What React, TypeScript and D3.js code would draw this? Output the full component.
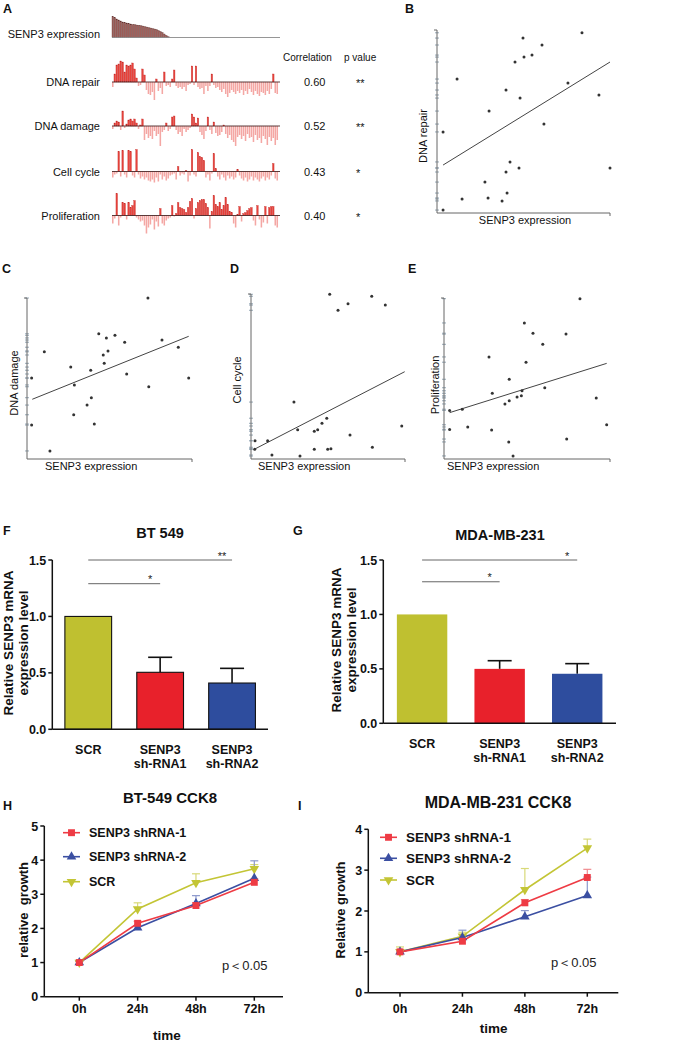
import React from 'react';
import * as d3 from 'd3';

const FONT = '"Liberation Sans", Arial, Helvetica, sans-serif';

// ---------- Panel A data ----------
const heatRowNames = ['DNA repair', 'DNA damage', 'Cell cycle', 'Proliferation'];
const correlations = ['0.60', '0.52', '0.43', '0.40'];
const pValues = ['**', '**', '*', '*'];
const senp3Expression = [21, 20, 18.5, 17.5, 16.5, 15.5, 15, 14.5, 14, 13.5, 13, 13, 12.5, 12.3, 12, 11.5, 11, 10.5, 10, 9.5, 9, 8.5, 8, 7, 6, 5, 3.5, 2, 0.7,
  0, 0, 0, 0, 0, 0, 0, 0, 0, 0, 0, 0, 0, 0, 0, 0, 0, 0, 0, 0, 0, 0, 0, 0, 0, 0, 0, 0, 0, 0, 0, 0, 0, 0, 0, 0, 0, 0, 0, 0, 0, 0, 0, 0, 0, 0, 0, 0, 0, 0, 0, 0, 0, 0, 0, 0];
const dnaRepair = [-5, 8, 17, 18, 21, 20, 10, 17, 16, 17, 19, 13, 4, -4, -3, 13, 7, -8, -12, -13, -10, -18, 3, -9, -6, -12, 10, -4, -3, -5,
  3, 12, -4, -6, -5, -7, -5, -9, -3, -2, 16, -3, 16, -5, -7, -6, -12, -4, -9, -4, 8, -3, -6, -5, -8, -10, -7, -12, -15, -11,
  -8, -10, -12, -9, -11, -8, -13, -9, -12, -7, -10, -13, -9, -12, -14, -10, -11, -13, -9, -12, -7, 8, -11, -12];
const dnaDamage = [-3, 3, 5, 4, -4, 15, -2, 2, 6, 7, 5, 7, 3, -3, 1, 7, -14, -8, -12, -10, -13, -5, -10, -8, -20, -6, -4, 3, -5, -3,
  9, 10, -4, -8, -6, -10, -3, -6, -4, -2, 12, 9, 3, 8, -6, -9, -13, -5, 9, -4, -8, 4, -7, -10, -9, -6, 1, -8, -12, -9,
  -14, -16, -20, -11, -9, -13, -10, -15, -8, -12, -11, -16, -9, -14, -12, -17, -10, -13, -19, -11, -15, -12, -19, -14];
const cellCycle = [-6, -3, -2, 20, -5, 21, -3, -6, 21, 20, -4, -6, 22, -3, -7, -5, -8, -6, -9, -10, -8, -11, -6, -10, -3, -8, -5, -9, -7, -4,
  -3, -2, -8, 5, -4, -2, -3, 1, -10, -4, 22, -3, -5, 19, 15, 14, 11, -6, -3, -9, -2, 18, 3, -5, -8, -3, -6, -9, -4, -7,
  -5, -8, -6, 2, -4, -7, -9, -6, -10, -8, -5, -9, -6, -8, -10, -7, -5, -9, -6, -8, -4, 8, -7, -9];
const proliferation = [-8, -3, 22, -10, -2, 13, 12, -4, 13, 8, 10, 15, -2, -4, -6, -5, -10, -18, -12, -9, -4, -14, -6, -11, 7, -8, -10, -5, -3, -2,
  10, -1, 2, 13, 8, 7, 6, 3, 8, 14, 17, -3, 7, 13, 15, 16, 16, 12, 8, -13, 4, 20, 11, 9, 13, 6, 10, 18, 11, 4,
  3, -8, -12, 1, 9, -6, 2, 3, 5, 7, 8, -5, -10, 10, -4, -12, -7, 9, -8, 8, 9, 9, -10, -12];

// ---------- Scatter data (x: SENP3 expression, y: pathway score, 0-100 units) ----------
const repairPts: [number, number][] = [[49.7, 95.6], [83.8, 98.5], [60.7, 91.8], [45.1, 82.5], [50.3, 85.2], [54.9, 86.3], [11.6, 73.2], [39.9, 67.2],
  [75.7, 71.0], [48.0, 62.8], [93.6, 64.5], [30.1, 55.7], [3.5, 44.3], [61.8, 48.6], [42.2, 27.9], [39.9, 22.4], [47.4, 24.6], [100, 24.6],
  [27.7, 16.9], [14.5, 7.7], [29.5, 8.2], [40.5, 10.9], [37.6, 6.6], [3.5, 1.6]];
const repairFit: [number, number][] = [[3.5, 26.2], [100, 82.5]];
const damagePts: [number, number][] = [[73.3, 100], [43.5, 77.8], [48.1, 75.2], [53.3, 76.8], [59.2, 72.5], [81.8, 73.9], [91.7, 69.4], [10.5, 66.6],
  [49.1, 67.1], [46.2, 64.6], [46.8, 59.4], [26.5, 57.1], [38.6, 55.1], [2.8, 50.3], [60.4, 52.8], [98.0, 50.3], [28.7, 46.0], [73.8, 44.9],
  [39.0, 38.1], [36.4, 33.5], [28.3, 27.5], [2.8, 21.1], [40.8, 21.7], [13.9, 5.0]];
const damageFit: [number, number][] = [[3.2, 37.1], [98, 76.2]];
const cyclePts: [number, number][] = [[51.1, 99.8], [78.4, 98.6], [63.0, 94.1], [87.2, 93.3], [56.5, 90.1], [27.9, 34.5], [49.2, 24.7], [46.1, 21.6],
  [30.3, 17.8], [43.3, 17.8], [41.1, 16.8], [97.9, 20.0], [64.3, 14.5], [10.8, 11.1], [2.6, 11.1], [2.4, 5.9], [41.1, 5.9], [49.8, 5.9],
  [51.9, 6.2], [78.8, 7.1], [13.6, 2.4], [31.8, 1.8]];
const cycleFit: [number, number][] = [[2.6, 6.1], [99.8, 52.9]];
const prolifPts: [number, number][] = [[81.9, 99.6], [48.4, 84.5], [53.6, 78.1], [73.5, 77.6], [59.5, 71.2], [27.1, 63.4], [49.4, 60.1], [39.3, 49.5],
  [29.1, 40.8], [47.0, 42.4], [60.7, 44.3], [44.0, 38.5], [46.6, 39.3], [39.3, 36.2], [36.7, 34.2], [91.7, 37.9], [11.0, 30.9], [14.3, 19.9],
  [28.7, 18.0], [39.0, 10.6], [73.9, 12.4], [98.0, 21.3], [3.4, 30.2], [3.4, 18.4], [41.6, 1.9]];
const prolifFit: [number, number][] = [[3.4, 28.8], [98, 59.4]];

// ---------- Bar chart data ----------
const barCats = ['SCR', 'sh1', 'sh2'];
const barLabels = [['SCR'], ['SENP3', 'sh-RNA1'], ['SENP3', 'sh-RNA2']];
const barTicks = [0, 0.5, 1.0, 1.5];
const bt549Mean = [1.0, 0.505, 0.41];
const bt549Err = [0, 0.133, 0.13];
const mdaMean = [1.0, 0.5, 0.455];
const mdaErr = [0, 0.075, 0.093];
const bt549Sig = [{ a: 0, b: 2, y: 1.5, label: '**' }, { a: 0, b: 1, y: 1.29, label: '*' }];
const mdaSig = [{ a: 0, b: 2, y: 1.5, label: '*' }, { a: 0, b: 1, y: 1.3, label: '*' }];

// ---------- CCK8 data ----------
const timePoints = ['0h', '24h', '48h', '72h'];
const legendNames = ['SENP3 shRNA-1', 'SENP3 shRNA-2', 'SCR'];
const bt549Sh1 = [1.0, 2.15, 2.67, 3.35];
const bt549Sh1Err = [0.04, 0.06, 0.08, 0.1];
const bt549Sh2 = [1.0, 2.02, 2.73, 3.47];
const bt549Sh2Err = [0.03, 0.05, 0.23, 0.51];
const bt549Scr = [1.0, 2.57, 3.34, 3.75];
const bt549ScrErr = [0.05, 0.18, 0.26, 0.12];
const mdaSh1 = [1.0, 1.26, 2.2, 2.82];
const mdaSh1Err = [0.03, 0.05, 0.08, 0.2];
const mdaSh2 = [1.0, 1.35, 1.86, 2.38];
const mdaSh2Err = [0.03, 0.18, 0.15, 0.45];
const mdaScr = [1.0, 1.38, 2.52, 3.54];
const mdaScrErr = [0.12, 0.1, 0.52, 0.22];

const RED = '#ee3b44';
const BLUE = '#3b4fa2';
const YEL = '#c3c535';

function Letter({ x, y, t }: { x: number; y: number; t: string }) {
  return <text x={x} y={y} fontSize={12.5} fontWeight="bold" fill="#111">{t}</text>;
}

function PanelA() {
  const xb = d3.scaleBand<number>().domain(d3.range(senp3Expression.length)).range([112, 280]).paddingInner(0.22);
  const h = d3.scaleLinear().domain([0, 25]).range([0, 25]);
  const rows = [dnaRepair, dnaDamage, cellCycle, proliferation];
  const bases = [82, 126, 171.5, 215.5];
  const expBase = 37.5;
  return (
    <g>
      <Letter x={3} y={13} t="A" />
      <text x={100} y={38} fontSize={11} textAnchor="end" fill="#111">SENP3 expression</text>
      {senp3Expression.map((v, i) => v > 0 ? (
        <rect key={i} x={xb(i)!} y={expBase - h(v)} width={xb.bandwidth()} height={h(v)} fill="#a0605b" stroke="#5e2f2c" strokeWidth={0.35} />
      ) : null)}
      <line x1={112} x2={280} y1={expBase} y2={expBase} stroke="#8a8a8a" strokeWidth={0.9} />
      <text x={283} y={61} fontSize={10} fill="#111">Correlation</text>
      <text x={344} y={61} fontSize={10} fill="#111">p value</text>
      {rows.map((vals, r) => (
        <g key={r}>
          <text x={100} y={bases[r] + 4} fontSize={11} textAnchor="end" fill="#111">{heatRowNames[r]}</text>
          {vals.map((v, i) => (
            <rect key={i} x={xb(i)!} y={v >= 0 ? bases[r] - h(v) : bases[r]} width={xb.bandwidth()} height={h(Math.abs(v))}
              fill={v >= 0 ? '#e8433c' : '#f4a7a4'} stroke={v >= 0 ? '#c52b29' : 'none'} strokeWidth={0.35} />
          ))}
          <line x1={112} x2={280} y1={bases[r]} y2={bases[r]} stroke="#4a2626" strokeWidth={0.9} />
          <text x={304} y={bases[r] + 4} fontSize={11} fill="#111">{correlations[r]}</text>
          <text x={356} y={bases[r] + 5} fontSize={11} fill="#111">{pValues[r]}</text>
        </g>
      ))}
    </g>
  );
}

function Scatter({ x0, x1, yTop, yBot, pts, fit, ylab, ylabX, ylabY, xlabX, xlabY, xlabAnchor }: any) {
  const xs = d3.scaleLinear().domain([0, 100]).range([x0, x1]);
  const ys = d3.scaleLinear().domain([0, 100]).range([yBot, yTop]);
  const line = d3.line<[number, number]>().x(d => xs(d[0])).y(d => ys(d[1]));
  return (
    <g>
      {pts.map((p: [number, number], i: number) => (
        <line key={'r' + i} x1={x0 - 2} x2={x0 + 2} y1={ys(p[1])} y2={ys(p[1])} stroke="#a9b8c4" strokeWidth={1.2} />
      ))}
      <line x1={x0} x2={x0} y1={yTop} y2={yBot} stroke="#666" strokeWidth={1} />
      <line x1={x0} x2={x1} y1={yBot} y2={yBot} stroke="#666" strokeWidth={1} />
      <line x1={x0 - 3} x2={x0} y1={yTop} y2={yTop} stroke="#666" strokeWidth={1} />
      <line x1={x1} x2={x1} y1={yBot} y2={yBot + 3} stroke="#666" strokeWidth={1} />
      <path d={line(fit) || ''} stroke="#444" strokeWidth={1} fill="none" />
      {pts.map((p: [number, number], i: number) => (
        <circle key={i} cx={xs(p[0])} cy={ys(p[1])} r={1.5} fill="#333" />
      ))}
      <text transform={`translate(${ylabX},${ylabY}) rotate(-90)`} fontSize={11} textAnchor="middle" fill="#111">{ylab}</text>
      <text x={xlabX} y={xlabY} fontSize={11} textAnchor={xlabAnchor} fill="#111">SENP3 expression</text>
    </g>
  );
}

function BarChart({ x0, x1, yTop, yBot, means, errs, sig, outline, title, titleX, titleY, labY, ylabX1, ylabX2, ylabY }: any) {
  const xb = d3.scaleBand<string>().domain(barCats).range([x0, x1]).paddingInner(0.35).paddingOuter(0.175);
  const ys = d3.scaleLinear().domain([0, 1.5]).range([yBot, yTop]);
  const colors = ['#bfc030', '#e8212b', '#2e4d9e'];
  return (
    <g>
      <text x={titleX} y={titleY} fontSize={14.5} fontWeight="bold" textAnchor="middle" fill="#111">{title}</text>
      {means.map((m: number, i: number) => {
        const c = barCats[i];
        const bx = xb(c)!;
        const cx = bx + xb.bandwidth() / 2;
        return (
          <g key={i}>
            {errs[i] > 0 && (
              <g stroke="#111" strokeWidth={1.6}>
                <line x1={cx} x2={cx} y1={ys(m)} y2={ys(m + errs[i])} />
                <line x1={cx - 12} x2={cx + 12} y1={ys(m + errs[i])} y2={ys(m + errs[i])} />
              </g>
            )}
            <rect x={bx} y={ys(m)} width={xb.bandwidth()} height={yBot - ys(m)} fill={colors[i]}
              stroke={outline ? '#111' : 'none'} strokeWidth={outline ? 1.1 : 0} />
            {barLabels[i].map((t, k) => (
              <text key={k} x={cx} y={labY + k * 14} fontSize={12.5} fontWeight="bold" textAnchor="middle" fill="#111">{t}</text>
            ))}
          </g>
        );
      })}
      {sig.map((s: any, i: number) => {
        const xa = xb(barCats[s.a])! + xb.bandwidth() / 2;
        const xe = xb(barCats[s.b])! + xb.bandwidth() / 2;
        return (
          <g key={i}>
            <line x1={xa} x2={xe} y1={ys(s.y)} y2={ys(s.y)} stroke="#666" strokeWidth={1} />
            <text x={xe - 10} y={ys(s.y) - 0.5} fontSize={11} textAnchor="middle" fill="#222">{s.label}</text>
          </g>
        );
      })}
      <line x1={x0} x2={x0} y1={yTop} y2={yBot} stroke="#111" strokeWidth={1.5} />
      <line x1={x0} x2={x1} y1={yBot} y2={yBot} stroke="#111" strokeWidth={1.5} />
      {barTicks.map((t, i) => (
        <g key={i}>
          <line x1={x0 - 4} x2={x0} y1={ys(t)} y2={ys(t)} stroke="#111" strokeWidth={1.5} />
          <text x={x0 - 6} y={ys(t) + 4.5} fontSize={12.5} fontWeight="bold" textAnchor="end" fill="#111">{t.toFixed(1)}</text>
        </g>
      ))}
      <text transform={`translate(${ylabX1},${ylabY}) rotate(-90)`} fontSize={13.5} fontWeight="bold" textAnchor="middle" fill="#111">Relative SENP3 mRNA</text>
      <text transform={`translate(${ylabX2},${ylabY}) rotate(-90)`} fontSize={13.5} fontWeight="bold" textAnchor="middle" fill="#111">expression level</text>
    </g>
  );
}

function Sym({ kind, x, y, color }: { kind: number; x: number; y: number; color: string }) {
  const types = [d3.symbolSquare, d3.symbolTriangle, d3.symbolTriangle];
  const sizes = [48, 40, 40];
  const d = d3.symbol().type(types[kind]).size(sizes[kind])() || '';
  return <path d={d} transform={`translate(${x},${y})${kind === 2 ? ' rotate(180)' : ''}`} fill={color} />;
}

function LineChart({ c }: any) {
  const xp = d3.scalePoint<string>().domain(timePoints).range([c.p0, c.p1]);
  const ys = d3.scaleLinear().domain([0, c.ymax]).range([c.yBot, c.yTop]);
  const ticks = d3.range(0, c.ymax + 1);
  const colors = [RED, BLUE, YEL];
  const errColors = ['#f08a8f', '#8c98cc', '#d8d978'];
  const line = d3.line<number>().x((_, i) => xp(timePoints[i])!).y(v => ys(v));
  const order = [2, 1, 0];
  return (
    <g>
      <text x={c.titleX} y={c.titleY} fontSize={c.titleSize} fontWeight="bold" textAnchor="middle" fill="#111">{c.title}</text>
      {order.map(k => (
        <g key={'e' + k} stroke={errColors[k]} strokeWidth={1.2}>
          {c.series[k].map((v: number, i: number) => {
            const x = xp(timePoints[i])!;
            const top = ys(v + c.errs[k][i]);
            return (
              <g key={i}>
                <line x1={x} x2={x} y1={ys(v)} y2={top} />
                <line x1={x - 4} x2={x + 4} y1={top} y2={top} />
              </g>
            );
          })}
        </g>
      ))}
      {order.map(k => (
        <path key={'l' + k} d={line(c.series[k]) || ''} stroke={colors[k]} strokeWidth={1.6} fill="none" />
      ))}
      {order.map(k => c.series[k].map((v: number, i: number) => (
        <Sym key={k + '-' + i} kind={k} x={xp(timePoints[i])!} y={ys(v)} color={colors[k]} />
      )))}
      <line x1={c.axX0} x2={c.axX0} y1={c.yTop} y2={c.yBot} stroke="#111" strokeWidth={1.5} />
      <line x1={c.axX0} x2={c.axX1} y1={c.yBot} y2={c.yBot} stroke="#111" strokeWidth={1.5} />
      {ticks.map(t => (
        <g key={t}>
          <line x1={c.axX0 - 4} x2={c.axX0} y1={ys(t)} y2={ys(t)} stroke="#111" strokeWidth={1.5} />
          <text x={c.axX0 - 6} y={ys(t) + 4.5} fontSize={12.5} fontWeight="bold" textAnchor="end" fill="#111">{t}</text>
        </g>
      ))}
      {timePoints.map(t => (
        <g key={t}>
          <line x1={xp(t)!} x2={xp(t)!} y1={c.yBot} y2={c.yBot + 4} stroke="#111" strokeWidth={1.5} />
          <text x={xp(t)!} y={c.tickLabY} fontSize={12.5} fontWeight="bold" textAnchor="middle" fill="#111">{t}</text>
        </g>
      ))}
      <text x={(c.p0 + c.p1) / 2} y={c.timeY} fontSize={13.5} fontWeight="bold" textAnchor="middle" fill="#111">time</text>
      <text transform={`translate(${c.ylabX},${c.ylabY}) rotate(-90)`} fontSize={13} fontWeight="bold" textAnchor="middle" fill="#111" style={{ whiteSpace: 'pre' }}>{c.ylab}</text>
      {legendNames.map((n, k) => (
        <g key={n}>
          <line x1={c.legX} x2={c.legX + 17} y1={c.legY[k]} y2={c.legY[k]} stroke={colors[k]} strokeWidth={1.6} />
          <Sym kind={k} x={c.legX + 8.5} y={c.legY[k]} color={colors[k]} />
          <text x={c.legX + 26} y={c.legY[k] + 4.5} fontSize={c.legSize} fontWeight="bold" fill="#111">{n}</text>
        </g>
      ))}
      <text x={c.pX} y={c.pY} fontSize={13} fill="#222">p＜0.05</text>
    </g>
  );
}

export default function App() {
  const hCfg = {
    axX0: 44.3, axX1: 283, p0: 79.3, p1: 254.3, yTop: 826, yBot: 996.7, ymax: 5,
    title: 'BT-549 CCK8', titleX: 170, titleY: 803, titleSize: 15,
    ylab: 'relative  growth', ylabX: 28, ylabY: 910,
    legX: 63, legY: [832.7, 856.7, 881.7], legSize: 12.5, pX: 222, pY: 969.5, timeY: 1040, tickLabY: 1013,
    series: [bt549Sh1, bt549Sh2, bt549Scr], errs: [bt549Sh1Err, bt549Sh2Err, bt549ScrErr],
  };
  const iCfg = {
    axX0: 368.3, axX1: 618.3, p0: 400, p1: 587.3, yTop: 829.3, yBot: 992.7, ymax: 4,
    title: 'MDA-MB-231 CCK8', titleX: 498, titleY: 808, titleSize: 16,
    ylab: 'Relative growth', ylabX: 345, ylabY: 910,
    legX: 380, legY: [837.3, 858.3, 880], legSize: 13.5, pX: 551, pY: 967, timeY: 1033, tickLabY: 1013,
    series: [mdaSh1, mdaSh2, mdaScr], errs: [mdaSh1Err, mdaSh2Err, mdaScrErr],
  };
  return (
    <svg width={698} height={1042} style={{ position: 'absolute', left: 0, top: 0, background: '#fff' }} fontFamily={FONT}>
      <rect x={0} y={0} width={698} height={1042} fill="#fff" />
      <PanelA />
      <Letter x={405} y={13} t="B" />
      <Scatter x0={437} x1={610} yTop={30} yBot={213} pts={repairPts} fit={repairFit} ylab="DNA repair" ylabX={427} ylabY={136} xlabX={525} xlabY={224} xlabAnchor="middle" />
      <Letter x={2} y={273} t="C" />
      <Scatter x0={27} x1={192} yTop={298} yBot={459} pts={damagePts} fit={damageFit} ylab="DNA damage" ylabX={18} ylabY={383} xlabX={45} xlabY={470} xlabAnchor="start" />
      <Letter x={230} y={273} t="D" />
      <Scatter x0={251} x1={405} yTop={294} yBot={459} pts={cyclePts} fit={cycleFit} ylab="Cell cycle" ylabX={240.5} ylabY={380} xlabX={258} xlabY={470} xlabAnchor="start" />
      <Letter x={408} y={273} t="E" />
      <Scatter x0={444} x1={610} yTop={298} yBot={459} pts={prolifPts} fit={prolifFit} ylab="Proliferation" ylabX={439} ylabY={385} xlabX={447} xlabY={470} xlabAnchor="start" />
      <Letter x={3} y={535} t="F" />
      <BarChart x0={52.3} x1={268} yTop={560} yBot={729.3} means={bt549Mean} errs={bt549Err} sig={bt549Sig} outline={true}
        title="BT 549" titleX={160} titleY={538} labY={754} ylabX1={13} ylabX2={28} ylabY={643} />
      <Letter x={293} y={535} t="G" />
      <BarChart x0={383.3} x1={616} yTop={560} yBot={723.3} means={mdaMean} errs={mdaErr} sig={mdaSig} outline={false}
        title="MDA-MB-231" titleX={500} titleY={540} labY={748} ylabX1={341} ylabX2={356} ylabY={640} />
      <Letter x={3} y={810} t="H" />
      <LineChart c={hCfg} />
      <Letter x={298} y={810} t="I" />
      <LineChart c={iCfg} />
    </svg>
  );
}
